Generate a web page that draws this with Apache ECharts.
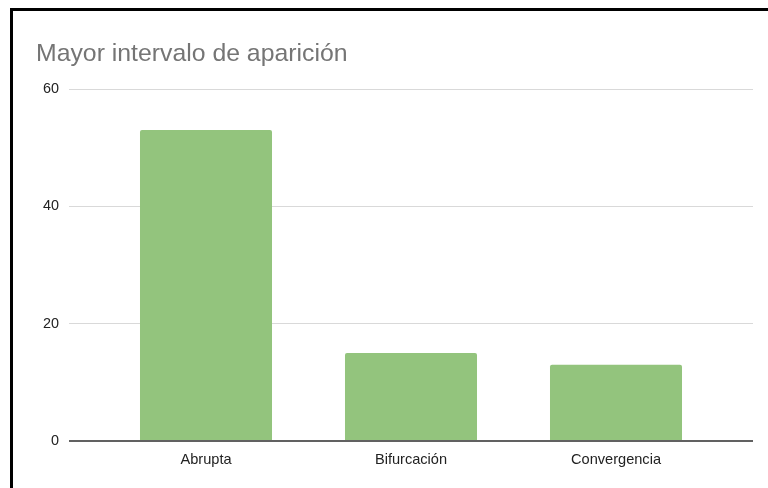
<!DOCTYPE html>
<html><head><meta charset="utf-8">
<script src="https://cdn.jsdelivr.net/npm/echarts@6/dist/echarts.min.js"></script>
<style>html,body{margin:0;padding:0;background:#fff}#c{width:768px;height:488px}</style>
</head><body><div id="c"></div>
<script>
const title = 'Mayor intervalo de aparición';
const categories = ['Abrupta', 'Bifurcación', 'Convergencia'];
const values = [53, 15, 13];
const yTicks = [0, 20, 40, 60];

const chart = echarts.init(document.getElementById('c'), null, {renderer: 'canvas'});
const font = '"Liberation Sans", Arial, sans-serif';
chart.setOption({
  animation: false,
  backgroundColor: '#fff',
  title: {
    text: title, left: 31, top: 37, padding: 5,
    textStyle: {fontFamily: font, fontSize: 24.8, fontWeight: 'normal', color: '#757575'}
  },
  graphic: [{
    type: 'rect', silent: true, z: 100,
    shape: {x: 11.5, y: 9.5, width: 800, height: 600},
    style: {fill: 'none', stroke: '#000', lineWidth: 3}
  }],
  grid: [
    {left: 69, right: 15, top: 89, bottom: 47, containLabel: false},
    {left: 103.5, right: 49.5, top: 89, bottom: 47, containLabel: false}
  ],
  xAxis: [
    {gridIndex: 0, type: 'value', min: 0, max: 1, show: true,
     axisLine: {show: false}, axisTick: {show: false}, axisLabel: {show: false}, splitLine: {show: false}},
    {gridIndex: 1, type: 'category', data: categories,
     axisLine: {show: false}, axisTick: {show: false},
     axisLabel: {fontFamily: font, fontSize: 14.6, color: '#222', margin: 11}}
  ],
  yAxis: [
    {gridIndex: 0, type: 'value', min: yTicks[0], max: yTicks[yTicks.length - 1], interval: 20,
     axisLine: {show: false}, axisTick: {show: false},
     axisLabel: {fontFamily: font, fontSize: 14.4, color: '#222', margin: 10},
     splitLine: {lineStyle: {color: '#d9d9d9', width: 1}}},
    {gridIndex: 1, type: 'value', min: yTicks[0], max: yTicks[yTicks.length - 1], interval: 20, show: false}
  ],
  series: [
    {type: 'bar', xAxisIndex: 1, yAxisIndex: 1, data: values, barCategoryGap: '35.6%',
     itemStyle: {color: '#93c47d', borderRadius: [2, 2, 0, 0]}, z: 2},
    {type: 'line', xAxisIndex: 0, yAxisIndex: 0, data: [[0, 0], [1, 0]], symbol: 'none', silent: true,
     lineStyle: {color: '#616161', width: 2}, z: 3}
  ]
});
</script></body></html>
